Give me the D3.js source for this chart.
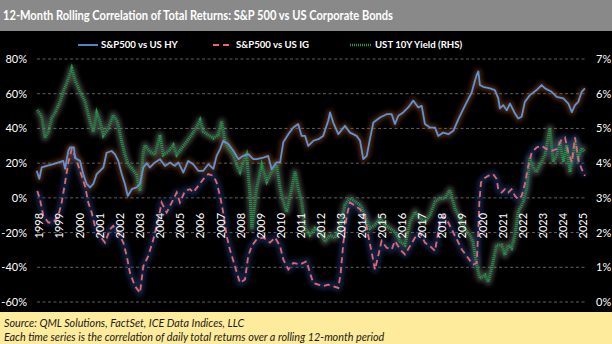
<!DOCTYPE html>
<html>
<head>
<meta charset="utf-8">
<script src="https://cdn.jsdelivr.net/npm/d3@7"></script>
<style>
  body { margin: 0; background: #000; }
  svg { display: block; }
</style>
</head>
<body>
<div id="chart"></div>
<script>
// Chart values
const titleText = "12-Month Rolling Correlation of Total Returns: S&P 500 vs US Corporate Bonds";
const sourceLines = [
  "Source: QML Solutions, FactSet, ICE Data Indices, LLC",
  "Each time series is the correlation of daily total returns over a rolling 12-month period"
];
const seriesNames = ["S&P500 vs US HY", "S&P500 vs US IG", "UST 10Y Yield (RHS)"];

const yearTicks = d3.range(1998, 2026);
const leftTicks = [80, 60, 40, 20, 0, -20, -40, -60];
const rightTicks = [0, 1, 2, 3, 4, 5, 6, 7];

// S&P500 vs US HY correlation (%)
const hyDates = [1997.87, 1998.00, 1998.12, 1998.37, 1998.69, 1999.19, 1999.28, 1999.44, 1999.52, 1999.72,
  1999.77, 2000.02, 2000.18, 2000.35, 2000.52, 2000.68, 2000.85, 2001.01, 2001.18, 2001.34,
  2001.59, 2001.76, 2001.92, 2002.09, 2002.25, 2002.39, 2002.59, 2002.83, 2003.00, 2003.16,
  2003.33, 2003.49, 2003.74, 2003.99, 2004.24, 2004.49, 2004.73, 2004.90, 2005.15, 2005.39,
  2005.64, 2005.89, 2006.14, 2006.39, 2006.64, 2006.80, 2006.97, 2007.13, 2007.38, 2007.63,
  2007.88, 2008.12, 2008.37, 2008.62, 2008.79, 2009.12, 2009.36, 2009.53, 2009.78, 2009.95,
  2010.11, 2010.36, 2010.61, 2010.85, 2011.02, 2011.19, 2011.35, 2011.60, 2011.85, 2012.09,
  2012.34, 2012.43, 2012.59, 2012.84, 2013.17, 2013.42, 2013.75, 2013.92, 2014.08, 2014.25,
  2014.41, 2014.58, 2014.91, 2015.24, 2015.49, 2015.65, 2015.82, 2016.06, 2016.31, 2016.56,
  2016.81, 2016.98, 2017.14, 2017.39, 2017.64, 2017.80, 2018.05, 2018.30, 2018.55, 2018.80,
  2019.04, 2019.29, 2019.46, 2019.62, 2019.71, 2019.79, 2019.87, 2020.03, 2020.37, 2020.61,
  2020.78, 2020.86, 2021.03, 2021.20, 2021.36, 2021.61, 2021.77, 2021.94, 2022.10, 2022.35,
  2022.68, 2022.93, 2023.10, 2023.43, 2023.68, 2024.01, 2024.26, 2024.43, 2024.59, 2024.75,
  2024.92, 2025.08];
const hyValues = [15.6, 11, 17.5, 18.4, 19.4, 21.3, 16.7, 27, 29, 29,
  23, 21.3, 13.7, 8, 6, 8, 13.7, 15.6, 17.5, 26,
  27, 25, 21.3, 13.7, 8, 1.1, 5, 6, 8, 17.5,
  20, 17.5, 20.4, 22.3, 18.4, 20.4, 18.4, 20.4, 14.6, 21.3,
  19.4, 15.6, 15.6, 19.4, 16.7, 24.2, 28.1, 32.9, 31, 27.1,
  22.3, 24.2, 25.2, 22.3, 22.3, 23.2, 24.2, 16.5, 20.4, 20.4,
  32, 36.7, 40.5, 42.5, 35.7, 35.7, 29.9, 32.9, 33.8, 35.7,
  44.4, 49.2, 43.4, 36.7, 41.5, 37.6, 35.7, 32.9, 22.3, 24.2,
  33.8, 43.4, 46.3, 48.2, 48.2, 42.5, 47.3, 49.2, 52.1, 56,
  52.1, 53, 42.5, 40.5, 40.5, 35.7, 37.6, 36.7, 38.6, 45.3,
  51.1, 56.9, 60.7, 67.5, 70.8, 72.8, 65, 64, 63.1, 62.1,
  57.3, 51.5, 53.4, 50.4, 54.3, 48.6, 45.7, 46.7, 55.3, 59.2,
  62.1, 65, 63.1, 61.1, 58.2, 57.3, 54.3, 49.4, 53.4, 55.3,
  61.1, 63.1];

// S&P500 vs US IG correlation (%)
const igDates = [1997.90, 1998.03, 1998.20, 1998.45, 1998.69, 1998.94, 1999.11, 1999.28, 1999.44, 1999.61,
  1999.77, 1999.94, 2000.10, 2000.27, 2000.43, 2000.60, 2000.76, 2001.01, 2001.26, 2001.51,
  2001.67, 2001.92, 2002.17, 2002.34, 2002.50, 2002.75, 2003.00, 2003.16, 2003.41, 2003.66,
  2003.91, 2004.07, 2004.32, 2004.57, 2004.82, 2004.98, 2005.23, 2005.48, 2005.64, 2005.89,
  2006.14, 2006.39, 2006.64, 2006.80, 2006.97, 2007.13, 2007.30, 2007.46, 2007.71, 2007.96,
  2008.21, 2008.37, 2008.54, 2008.79, 2009.12, 2009.45, 2009.70, 2009.95, 2010.11, 2010.36,
  2010.61, 2010.94, 2011.27, 2011.43, 2011.60, 2011.85, 2012.09, 2012.34, 2012.59, 2012.84,
  2012.96, 2013.09, 2013.26, 2013.42, 2013.67, 2013.92, 2014.16, 2014.33, 2014.50, 2014.66,
  2014.82, 2014.99, 2015.24, 2015.49, 2015.65, 2015.91, 2016.15, 2016.40, 2016.65, 2016.90,
  2017.14, 2017.39, 2017.64, 2017.88, 2018.05, 2018.30, 2018.55, 2018.80, 2018.97, 2019.21,
  2019.46, 2019.54, 2019.71, 2019.79, 2019.84, 2019.92, 2020.03, 2020.28, 2020.53, 2020.70,
  2020.78, 2020.95, 2021.11, 2021.28, 2021.44, 2021.61, 2021.77, 2021.94, 2022.10, 2022.27,
  2022.44, 2022.68, 2022.93, 2023.18, 2023.43, 2023.68, 2023.93, 2024.09, 2024.26, 2024.43,
  2024.59, 2024.75, 2024.92, 2025.08];
const igValues = [4, -0.7, -10.4, -14.2, -14.2, -10.4, -2.7, 8.8, 20.4, 28.1,
  24.2, 18.4, 12.7, 6.9, -2.7, -8.5, -16.2, -22, -25.8, -18.1,
  -16.2, -20, -25.8, -33.5, -43.2, -50.9, -54.7, -39.4, -33.5, -23.9,
  -12.4, -2.7, -8.5, -2.7, 3.1, -2.7, 4, 5, 3.1, 6.9,
  10.8, 13.7, 12.7, 8.8, 1.1, -8.5, -22, -29.7, -39.4, -49,
  -47, -33.5, -27.8, -23.9, -22.9, -25.8, -22.9, -27.8, -35.5, -41.3,
  -37.5, -38.4, -36.5, -43.2, -49, -50, -50.9, -50, -50.9, -51.9,
  -43.2, -25.8, -10.4, -2.7, -4.6, -6.6, -10.4, -22, -31.6, -41.3,
  -33.5, -24.8, -28.7, -29.7, -24.8, -29.7, -32.6, -27.8, -22.9, -20,
  -25.8, -27.8, -30.6, -14.2, -10.4, -14.2, -20, -25.8, -29.7, -33.5,
  -37.5, -38.4, -37.5, -18.1, -2.7, 8.8, 10.8, 12.7, 13.7, 10.8,
  5, 3.1, 5, 3.1, 5, 1.1, -0.8, 1.1, 7.9, 18.4,
  26.1, 29, 30, 28.1, 27.1, 28.1, 33.8, 34.8, 26.1, 20.4,
  34.8, 22.3, 16.5, 12.7];

// UST 10Y yield (%), right axis
const ustDates = [1997.90, 1998.12, 1998.28, 1998.45, 1998.62, 1998.78, 1999.03, 1999.19, 1999.39, 1999.61,
  1999.77, 2000.02, 2000.27, 2000.52, 2000.68, 2000.85, 2001.01, 2001.18, 2001.42, 2001.67,
  2001.87, 2002.09, 2002.25, 2002.42, 2002.59, 2002.83, 2003.00, 2003.16, 2003.25, 2003.49,
  2003.74, 2003.99, 2004.15, 2004.40, 2004.65, 2004.82, 2005.07, 2005.32, 2005.56, 2005.81,
  2005.98, 2006.14, 2006.39, 2006.64, 2006.88, 2007.05, 2007.22, 2007.38, 2007.63, 2007.80,
  2007.96, 2008.13, 2008.29, 2008.46, 2008.55, 2008.71, 2008.79, 2009.04, 2009.29, 2009.53,
  2009.78, 2009.95, 2010.11, 2010.28, 2010.53, 2010.69, 2010.85, 2011.02, 2011.19, 2011.43,
  2011.68, 2011.93, 2012.18, 2012.43, 2012.67, 2012.92, 2013.17, 2013.42, 2013.67, 2013.92,
  2014.16, 2014.41, 2014.66, 2014.92, 2015.16, 2015.41, 2015.66, 2015.91, 2016.15, 2016.40,
  2016.65, 2016.90, 2017.14, 2017.39, 2017.64, 2017.88, 2018.13, 2018.38, 2018.63, 2018.87,
  2019.12, 2019.37, 2019.52, 2019.71, 2019.87, 2020.12, 2020.28, 2020.45, 2020.70, 2020.95,
  2021.11, 2021.28, 2021.44, 2021.61, 2021.77, 2022.02, 2022.19, 2022.35, 2022.52, 2022.68,
  2022.93, 2023.10, 2023.34, 2023.51, 2023.68, 2023.84, 2024.01, 2024.18, 2024.34, 2024.59,
  2024.75, 2024.92, 2025.08];
const ustValues = [5.53, 5.34, 4.73, 4.9, 5.3, 5.45, 5.77, 6.06, 6.35, 6.73,
  6.4, 6.06, 5.77, 5.2, 4.9, 5.45, 5.2, 4.8, 5.0, 5.39,
  5.2, 4.62, 4.24, 3.95, 3.85, 3.66, 3.2, 4.3, 4.52, 4.33,
  4.24, 4.81, 4.24, 4.33, 4.52, 4.24, 4.43, 4.62, 4.81, 5.05,
  5.24, 4.91, 4.81, 4.72, 4.81, 5.2, 4.62, 4.43, 4.24, 3.95,
  3.75, 4.04, 4.24, 3.1, 2.12, 2.89, 3.28, 3.95, 3.47, 3.75,
  3.95, 3.28, 2.89, 2.6, 3.28, 3.75, 3.28, 2.89, 2.12, 1.93,
  2.12, 2.02, 1.74, 1.93, 1.84, 2.12, 2.8, 2.99, 2.89, 2.8,
  2.5, 2.12, 2.22, 2.41, 2.22, 2.12, 2.02, 1.74, 1.64, 2.31,
  2.6, 2.41, 2.31, 2.51, 2.89, 2.99, 2.99, 3.23, 2.7, 2.41,
  2.12, 1.93, 1.74, 1.07, 0.68, 0.78, 0.58, 0.97, 1.64, 1.64,
  1.35, 1.64, 1.55, 1.93, 2.6, 2.89, 3.28, 4.14, 3.85, 3.75,
  4.04, 4.24, 5.0, 4.04, 4.24, 4.62, 4.04, 4.52, 3.75, 4.62,
  4.14, 4.43, 4.33];

const width = 612;
const height = 344;
const titleH = 31;
const footerTop = 312;
const plotLeft = 37;
const plotRight = 585;
const fontFamily = "Lato, 'Open Sans', sans-serif";

const svg = d3.select("#chart").append("svg")
    .attr("width", width)
    .attr("height", height)
    .attr("viewBox", [0, 0, width, height])
    .style("font-family", fontFamily);

const defs = svg.append("defs");
defs.append("filter").attr("id", "soft")
    .attr("x", "-5%").attr("y", "-20%").attr("width", "110%").attr("height", "140%")
  .append("feGaussianBlur").attr("stdDeviation", 2.2);

// backgrounds
svg.append("rect").attr("width", width).attr("height", height).attr("fill", "#000");
svg.append("rect").attr("width", width).attr("height", titleH).attr("fill", "#898989");
svg.append("rect").attr("y", footerTop).attr("width", width).attr("height", height - footerTop).attr("fill", "#ffeb9c");

svg.append("text")
    .attr("x", 3)
    .attr("y", 20)
    .attr("fill", "#fff")
    .attr("font-weight", "bold")
    .attr("font-size", 12.5)
    .attr("textLength", 390)
    .attr("lengthAdjust", "spacingAndGlyphs")
    .text(titleText);

// scales
const x = d3.scaleLinear().domain([1998, 2025]).range([39.3, 583.3]);
const yL = d3.scaleLinear().domain([-60, 80]).range([302, 59]);
const yR = d3.scaleLinear().domain([0, 7]).range([302, 59]);

// gridlines
svg.append("g")
  .selectAll("line")
  .data(leftTicks)
  .join("line")
    .attr("x1", plotLeft)
    .attr("x2", plotRight)
    .attr("y1", d => yL(d))
    .attr("y2", d => yL(d))
    .attr("stroke", "#7a7a7a")
    .attr("stroke-width", 0.8)
    .attr("stroke-dasharray", "3,2.5");

// left axis labels
svg.append("g")
    .attr("transform", `translate(${plotLeft - 10},0)`)
    .call(d3.axisLeft(yL).tickValues(leftTicks).tickFormat(d => d + "%").tickSize(0).tickPadding(0))
    .call(g => g.select(".domain").remove())
    .call(g => g.selectAll(".tick text")
        .attr("fill", "#fff")
        .attr("font-size", 11)
        .attr("font-family", fontFamily));

// right axis labels
svg.append("g")
    .attr("transform", `translate(${plotRight + 11},0)`)
    .call(d3.axisRight(yR).tickValues(rightTicks).tickFormat(d => d + "%").tickSize(0).tickPadding(0))
    .call(g => g.select(".domain").remove())
    .call(g => g.selectAll(".tick text")
        .attr("fill", "#fff")
        .attr("font-size", 11)
        .attr("font-family", fontFamily));

// series
const lineL = (dates, values) => d3.line()
    .x((d, i) => x(dates[i]))
    .y(d => yL(d))(values);
const lineR = (dates, values) => d3.line()
    .x((d, i) => x(dates[i]))
    .y(d => yR(d))(values);

const ustPath = lineR(ustDates, ustValues);
const igPath = lineL(igDates, igValues);
const hyPath = lineL(hyDates, hyValues);

// glows
svg.append("path").attr("d", ustPath).attr("fill", "none")
    .attr("stroke", "#9a9a9a").attr("stroke-width", 7).attr("stroke-opacity", 0.4)
    .attr("stroke-linejoin", "round").attr("filter", "url(#soft)");
svg.append("path").attr("d", igPath).attr("fill", "none")
    .attr("stroke", "#1f3a78").attr("stroke-width", 7).attr("stroke-opacity", 0.55)
    .attr("stroke-linejoin", "round").attr("filter", "url(#soft)");
svg.append("path").attr("d", hyPath).attr("fill", "none")
    .attr("stroke", "#9a4a18").attr("stroke-width", 6).attr("stroke-opacity", 0.5)
    .attr("stroke-linejoin", "round").attr("filter", "url(#soft)");

svg.append("path").attr("d", ustPath).attr("fill", "none")
    .attr("stroke", "#1f9a45").attr("stroke-width", 3)
    .attr("stroke-dasharray", "1,1");
svg.append("path").attr("d", igPath).attr("fill", "none")
    .attr("stroke", "#e8666a").attr("stroke-width", 1.8)
    .attr("stroke-dasharray", "6,4");
svg.append("path").attr("d", hyPath).attr("fill", "none")
    .attr("stroke", "#5b93dc").attr("stroke-width", 1.8)
    .attr("stroke-linejoin", "round");

// year labels, rotated, hanging below the 0% line
svg.append("g")
  .selectAll("text")
  .data(yearTicks)
  .join("text")
    .attr("transform", d => `translate(${x(d)},${yL(0) + 15}) rotate(-90)`)
    .attr("text-anchor", "end")
    .attr("dy", "0.36em")
    .attr("fill", "#fff")
    .attr("font-size", 11)
    .text(d => d);

// legend
const legend = [
  {name: seriesNames[0], x0: 78, x1: 98, color: "#5b93dc", dash: null, w: 1.8},
  {name: seriesNames[1], x0: 213, x1: 233, color: "#e8666a", dash: "6,4", w: 1.8},
  {name: seriesNames[2], x0: 350, x1: 372, color: "#1f9a45", dash: "1,1", w: 2.4}
];
const lg = svg.append("g").selectAll("g").data(legend).join("g");
lg.append("line")
    .attr("x1", d => d.x0).attr("x2", d => d.x1)
    .attr("y1", 45).attr("y2", 45)
    .attr("stroke", d => d.color)
    .attr("stroke-width", d => d.w)
    .attr("stroke-dasharray", d => d.dash);
lg.append("text")
    .attr("x", d => d.x1 + 3)
    .attr("y", 45)
    .attr("dy", "0.35em")
    .attr("fill", "#fff")
    .attr("font-size", 9.6)
    .attr("font-weight", "bold")
    .text(d => d.name);

// footer notes
svg.append("g")
  .selectAll("text")
  .data(sourceLines)
  .join("text")
    .attr("x", 4)
    .attr("y", (d, i) => 327 + i * 13.5)
    .attr("fill", "#1a1a1a")
    .attr("font-style", "italic")
    .attr("font-size", 10.8)
    .text(d => d);
</script>
</body>
</html>
